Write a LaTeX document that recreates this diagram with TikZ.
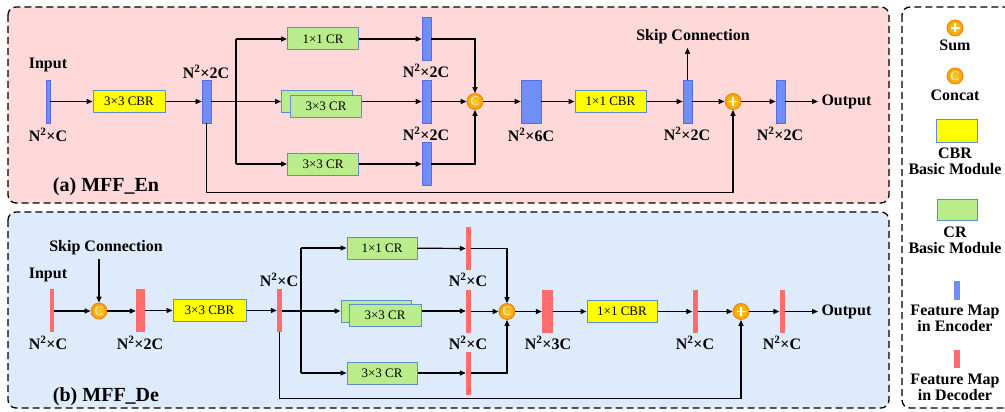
\documentclass[tikz,border=0pt]{standalone}
\usepackage{fontspec}
\setmainfont{Liberation Serif}
\usetikzlibrary{arrows.meta, positioning, shapes.geometric}

\definecolor{encpanel}{RGB}{255,217,217}
\definecolor{decpanel}{RGB}{221,235,252}
\definecolor{encblue}{RGB}{111,143,247}
\definecolor{encedge}{RGB}{90,105,235}
\definecolor{decred}{RGB}{255,108,108}
\definecolor{cbryellow}{RGB}{255,255,0}
\definecolor{crgreen}{RGB}{186,236,140}
\definecolor{boxedge}{RGB}{95,140,210}
\definecolor{opinner}{RGB}{255,205,40}
\definecolor{opouter}{RGB}{250,160,0}
\definecolor{opedge}{RGB}{235,130,0}

\begin{document}
\begin{tikzpicture}[
    x=1pt, y=-1pt,
    every node/.style={font=\fontsize{16}{16}\selectfont\bfseries},
    panel/.style={draw, dash pattern=on 7pt off 4pt, line width=1.3pt, rounded corners=8pt},
    cbrblock/.style={rectangle, draw=boxedge, fill=cbryellow, line width=1pt, minimum width=72pt, minimum height=22pt, inner sep=0pt, font=\fontsize{13}{13}\selectfont},
    crblock/.style={rectangle, draw=boxedge, fill=crgreen, line width=1pt, minimum width=71pt, minimum height=22pt, inner sep=0pt, font=\fontsize{13}{13}\selectfont},
    encmap/.style={rectangle, draw=encedge, fill=encblue, line width=0.6pt, minimum height=43pt, inner sep=0pt},
    decmap/.style={rectangle, fill=decred, minimum height=43pt, inner sep=0pt},
    opcircle/.style={circle, draw=opedge, line width=0.8pt, inner color=opinner, outer color=opouter, minimum size=16pt, inner sep=0pt},
    concatop/.style={opcircle, text=white, font=\fontsize{13}{13}\selectfont},
    sumop/.style={opcircle, path picture={
        \draw[white, line width=1.8pt] ([xshift=3.5pt]path picture bounding box.west) -- ([xshift=-3.5pt]path picture bounding box.east);
        \draw[white, line width=1.8pt] ([yshift=-3.5pt]path picture bounding box.north) -- ([yshift=3.5pt]path picture bounding box.south);}},
    arrow/.style={-{Triangle[length=6pt,width=5pt]}, line width=1.2pt},
    link/.style={line width=1.2pt}
]
\useasboundingbox (0,0) rectangle (1005,412);

% panels
\draw[panel, fill=encpanel] (8,7) rectangle (889,203);
\draw[panel, fill=decpanel] (8,212) rectangle (889,408);
\draw[panel] (902,7) rectangle (1015,408);

% (a) encoder block
\node[encmap, minimum width=4pt] (ein) at (48,101.5) {};
\node at (48,65) {Input};
\node at (48,135) {N\textsuperscript{2}×C};
\node[cbrblock] (ecbr) at (129,101.5) {3×3 CBR};
\node[encmap, minimum width=9pt] (eb1) at (206.5,101.5) {};
\node at (206,72) {N\textsuperscript{2}×2C};
\coordinate (esplit) at (236,101.5);

\node[crblock] (ecr1) at (323,39) {1×1 CR};
\node[crblock] (ecr2b) at (317,101.5) {};
\node[crblock] (ecr2) at (326,106.5) {3×3 CR};
\node[crblock] (ecr3) at (323,164) {3×3 CR};

\node[encmap, minimum width=9pt] (eb2) at (426.5,39) {};
\node[encmap, minimum width=9pt] (eb3) at (426.5,101.5) {};
\node[encmap, minimum width=9pt] (eb4) at (426.5,164) {};
\node at (426,71) {N\textsuperscript{2}×2C};
\node at (426,134) {N\textsuperscript{2}×2C};

\node[concatop] (ecat) at (475,101.5) {C};
\node[encmap, minimum width=20pt] (ewide) at (531,101.5) {};
\node at (531,135) {N\textsuperscript{2}×6C};
\node[cbrblock, minimum width=71pt] (ecbr2) at (610.5,101.5) {1×1 CBR};
\node[encmap, minimum width=9pt] (eb5) at (687.5,101.5) {};
\node at (687,134) {N\textsuperscript{2}×2C};
\node (eskip) at (693,37) {Skip Connection};
\node[sumop] (esum) at (733,101.5) {};
\node[encmap, minimum width=9pt] (eb6) at (780.5,101.5) {};
\node at (780,134) {N\textsuperscript{2}×2C};
\node[anchor=west] (eout) at (818,101.5) {Output};
\node[font=\fontsize{20}{20}\selectfont\bfseries] at (106,187) {(a) MFF\_En};

\draw[arrow] (ein) -- (ecbr);
\draw[arrow] (ecbr) -- (eb1);
\draw[arrow] (eb1) -- (ecr2b);
\draw[link] (esplit |- ecr1) -- (esplit |- ecr3);
\draw[arrow] (esplit |- ecr1) -- (ecr1);
\draw[arrow] (esplit |- ecr3) -- (ecr3);
\draw[arrow] (ecr1) -- (eb2);
\draw[arrow] (ecr2.east |- eb3) -- (eb3);
\draw[arrow] (ecr3) -- (eb4);
\draw[arrow] (eb2.east) -| (ecat.north);
\draw[arrow] (eb3) -- (ecat);
\draw[arrow] (eb4.east) -| (ecat.south);
\draw[arrow] (ecat) -- (ewide);
\draw[arrow] (ewide) -- (ecbr2);
\draw[arrow] (ecbr2) -- (eb5);
\draw[arrow] (eb5.north) -- (eb5.north |- eskip.south);
\draw[arrow] (eb5) -- (esum);
\draw[arrow] (esum) -- (eb6);
\draw[arrow] (eb6) -- (eout);
\draw[arrow] (eb1.south) -- ++(0,69) -| (esum.south);

% (b) decoder block
\node[decmap, minimum width=4pt] (din) at (52,310.5) {};
\node at (48,275) {Input};
\node at (48,343) {N\textsuperscript{2}×C};
\node (dskip) at (106,248) {Skip Connection};
\node[concatop] (dcat) at (99,311) {C};
\node[decmap, minimum width=9pt] (db1) at (140.5,310.5) {};
\node at (140,343) {N\textsuperscript{2}×2C};
\node[cbrblock, minimum width=73pt] (dcbr) at (209.5,310.5) {3×3 CBR};
\node[decmap, minimum width=5pt] (db2) at (279.5,310.5) {};
\node at (279,280) {N\textsuperscript{2}×C};
\coordinate (dsplit) at (301,311);

\node[crblock, minimum width=70pt] (dcr1) at (382,248) {1×1 CR};
\node[crblock, minimum width=70pt] (dcr2b) at (376,311) {};
\node[crblock, minimum width=72pt] (dcr2) at (385,315.5) {3×3 CR};
\node[crblock, minimum width=70pt] (dcr3) at (382,373) {3×3 CR};

\node[decmap, minimum width=5pt] (db3) at (468.5,248.5) {};
\node[decmap, minimum width=5pt] (db4) at (468.5,311) {};
\node[decmap, minimum width=5pt] (db5) at (468.5,373) {};
\node at (468,280) {N\textsuperscript{2}×C};
\node at (468,343) {N\textsuperscript{2}×C};

\node[concatop] (dcat2) at (507,311.5) {C};
\node[decmap, minimum width=11pt] (dwide) at (547.5,311.5) {};
\node at (548,343) {N\textsuperscript{2}×3C};
\node[cbrblock, minimum width=70pt] (dcbr2) at (622,311.5) {1×1 CBR};
\node[decmap, minimum width=5pt] (db6) at (695,311.5) {};
\node at (695,343) {N\textsuperscript{2}×C};
\node[sumop] (dsum) at (741,311.5) {};
\node[decmap, minimum width=5pt] (db7) at (782,311.5) {};
\node at (782,343) {N\textsuperscript{2}×C};
\node[anchor=west] (dout) at (818,311.5) {Output};
\node[font=\fontsize{20}{20}\selectfont\bfseries] at (106,397) {(b) MFF\_De};

\draw[arrow] (din.east |- dcat) -- (dcat);
\draw[arrow] (dcat |- dskip.south) -- (dcat.north);
\draw[arrow] (dcat) -- (db1.west |- dcat);
\draw[arrow] (db1) -- (dcbr);
\draw[arrow] (dcbr) -- (db2);
\draw[arrow] (db2.east |- dcr2b) -- (dcr2b);
\draw[link] (dsplit |- dcr1) -- (dsplit |- dcr3);
\draw[arrow] (dsplit |- dcr1) -- (dcr1);
\draw[arrow] (dsplit |- dcr3) -- (dcr3);
\draw[arrow] (dcr1) -- (db3);
\draw[arrow] (dcr2.east |- db4) -- (db4);
\draw[arrow] (dcr3) -- (db5);
\draw[arrow] (db3.east) -| (dcat2.north);
\draw[arrow] (db4.east |- dcat2) -- (dcat2);
\draw[arrow] (db5.east) -| (dcat2.south);
\draw[arrow] (dcat2) -- (dwide);
\draw[arrow] (dwide) -- (dcbr2);
\draw[arrow] (dcbr2) -- (db6);
\draw[arrow] (db6) -- (dsum);
\draw[arrow] (dsum) -- (db7);
\draw[arrow] (db7) -- (dout);
\draw[arrow] (db2.south) -- ++(0,66) -| (dsum.south);

% legend
\node[sumop] (lsum) at (955,28) {};
\node at (955,45) {Sum};
\node[concatop] (lcat) at (955,76) {C};
\node at (955,95) {Concat};
\node[cbrblock, minimum width=41pt] (lcbr) at (956.5,131) {};
\node[align=center] at (955,161) {CBR\\Basic Module};
\node[crblock, minimum width=40pt, minimum height=21pt] (lcr) at (957,209.5) {};
\node[align=center] at (955,240) {CR\\Basic Module};
\node[encmap, draw=none, minimum width=6pt, minimum height=19pt] (lenc) at (957,290.5) {};
\node[align=center] at (955,318.5) {Feature Map\\in Encoder};
\node[decmap, minimum width=6pt, minimum height=18pt] (ldec) at (957,359) {};
\node[align=center] at (955,387) {Feature Map\\in Decoder};
\end{tikzpicture}
\end{document}
